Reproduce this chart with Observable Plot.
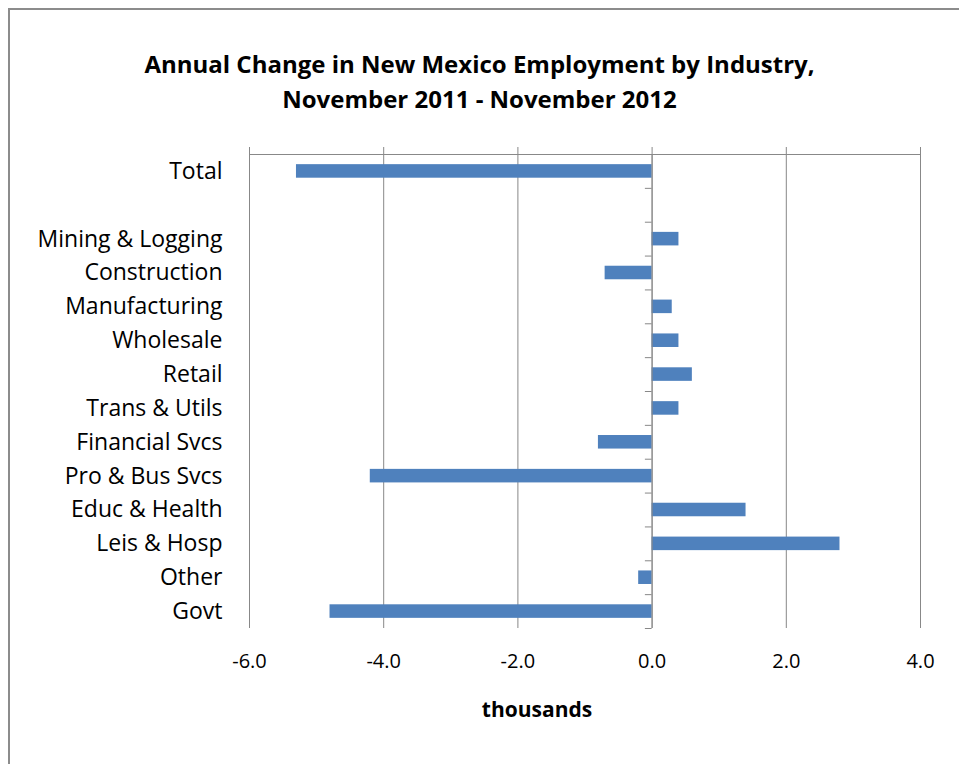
<!DOCTYPE html>
<html>
<head>
<meta charset="utf-8">
<script src="https://cdn.jsdelivr.net/npm/d3@7"></script>
<script src="https://cdn.jsdelivr.net/npm/@observablehq/plot@0.6"></script>
<style>
  html, body { margin: 0; padding: 0; background: #fff; }
  body { width: 959px; height: 764px; position: relative; overflow: hidden; font-family: "Open Sans", sans-serif; }
  #frame { position: absolute; left: 8px; top: 8px; width: 980px; height: 800px; border: 2px solid #8c8c8c; box-sizing: border-box; }
  #title { position: absolute; left: 0; width: 959px; top: 46px; text-align: center; font-weight: bold; font-size: 24px; line-height: 35px; color: #000; }
  #chart { position: absolute; left: 0; top: 130px; }
  #xlabel { position: absolute; left: 437px; width: 200px; top: 695px; text-align: center; font-weight: bold; font-size: 21px; color: #000; }
</style>
</head>
<body>
<div id="frame"></div>
<div id="title">Annual Change in New Mexico Employment by Industry,<br>November 2011 - November 2012</div>
<div id="chart"></div>
<div id="xlabel">thousands</div>
<script>
const categories = ["Total", " ", "Mining & Logging", "Construction", "Manufacturing", "Wholesale", "Retail", "Trans & Utils", "Financial Svcs", "Pro & Bus Svcs", "Educ & Health", "Leis & Hosp", "Other", "Govt"];
const values = [-5.3, null, 0.4, -0.7, 0.3, 0.4, 0.6, 0.4, -0.8, -4.2, 1.4, 2.8, -0.2, -4.8];
const xTicks = [-6, -4, -2, 0, 2, 4];

const data = categories.map((c, i) => ({category: c, value: values[i]})).filter(d => d.value !== null);

const marginTop = 24, marginBottom = 136;
const bandH = 474;
const step = bandH / categories.length;

const chart = Plot.plot({
  width: 959,
  height: marginTop + bandH + marginBottom,
  marginLeft: 249,
  marginRight: 39,
  marginTop,
  marginBottom,
  style: {fontFamily: "Open Sans, sans-serif", fontSize: "20px", color: "#000", background: "transparent"},
  x: {domain: [-6, 4], ticks: xTicks, label: null},
  y: {domain: categories, paddingInner: 0.6, paddingOuter: 0.3, align: 0.5, round: false, label: null},
  marks: [
    Plot.ruleX(xTicks, {stroke: "#888", strokeWidth: 1, strokeOpacity: 1}),
    Plot.axisX({anchor: "top", ticks: xTicks, tickSize: 8, tickFormat: () => "", stroke: "#888", label: null}),
    Plot.frame({anchor: "top", stroke: "#888", strokeOpacity: 1}),
    Plot.axisX({anchor: "bottom", ticks: xTicks, tickSize: 0, tickPadding: 25, tickFormat: d => d.toFixed(1), fontSize: 20, fill: "#000", label: null}),
    Plot.axisY({anchor: "left", tickSize: 0, tickPadding: 27, fontSize: 23, fill: "#000", label: null, tickFormat: d => d}),
    Plot.barX(data, {x: 0, x2: "value", y: "category", fill: "#4F81BD"}),
    Plot.ruleX([0], {stroke: "#888", strokeWidth: 1}),
    Plot.ruleY(categories, {y: d => d, x1: -0.1, x2: 0, dy: -step / 2, stroke: "#888"}),
    Plot.ruleY([categories[categories.length - 1]], {y: d => d, x1: -0.1, x2: 0, dy: step / 2, stroke: "#888"})
  ]
});
document.getElementById("chart").appendChild(chart);
</script>
</body>
</html>
